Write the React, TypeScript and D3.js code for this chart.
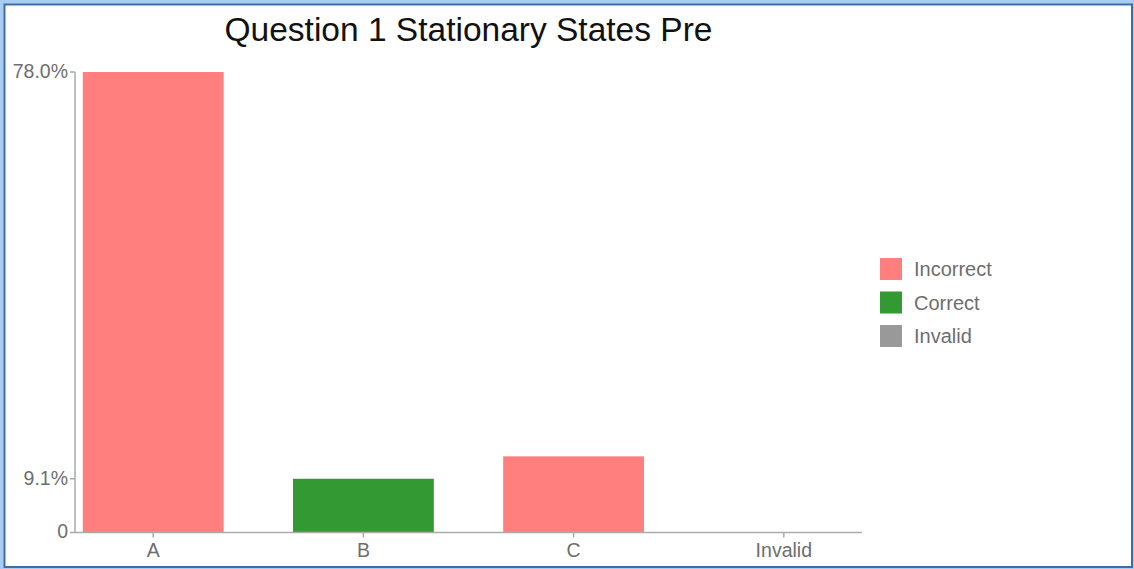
import React from "react";
import * as d3 from "d3";

const categories = ["A", "B", "C", "Invalid"];
const percentages = [78.0, 9.1, 12.9, 0];
const kinds = ["Incorrect", "Correct", "Incorrect", "Invalid"];
const legendLabels = ["Incorrect", "Correct", "Invalid"];
const yTickValues = [0, 9.1, 78.0];

const W = 1134;
const H = 569;
const colors: Record<string, string> = {
  Incorrect: "#ff7f7f",
  Correct: "#339933",
  Invalid: "#999999",
};

export default function App() {
  const left = 75;
  const right = 862;
  const top = 72;
  const bottom = 532.5;

  const x = d3
    .scaleBand<string>()
    .domain(categories)
    .range([left, right])
    .paddingInner(0.33)
    .paddingOuter(0.037);
  const y = d3.scaleLinear().domain([0, 78]).range([bottom, top]);

  const font = "'Liberation Sans', Arial, Helvetica, sans-serif";
  const axisColor = "#aaaaaa";
  const textColor = "#6e6e6e";

  const fmt = (v: number) => (v === 0 ? "0" : `${v.toFixed(1)}%`);

  return (
    <svg
      width={W}
      height={H}
      style={{ position: "absolute", left: 0, top: 0, display: "block" }}
      fontFamily={font}
    >
      {/* frame */}
      <rect x={0} y={0} width={W} height={H} fill="#a8ccf2" />
      <rect x={4.5} y={4.5} width={W - 6.5} height={H - 6.5} fill="#ffffff" stroke="#3e6ea3" strokeWidth={2} />

      {/* title */}
      <text
        x={(left + right) / 2}
        y={40.5}
        textAnchor="middle"
        fontSize={33.5}
        fill="#111111"
      >
        Question 1 Stationary States Pre
      </text>

      {/* bars */}
      {categories.map((c, i) => (
        <rect
          key={c}
          x={x(c)}
          y={y(percentages[i])}
          width={x.bandwidth()}
          height={bottom - y(percentages[i])}
          fill={colors[kinds[i]]}
        />
      ))}

      {/* y axis */}
      <line x1={left} x2={left} y1={top} y2={bottom} stroke={axisColor} strokeWidth={1.5} />
      {yTickValues.map((v) => (
        <g key={v} transform={`translate(0,${y(v)})`}>
          <line x1={left - 5} x2={left} stroke={axisColor} strokeWidth={1.5} />
          <text
            x={left - 7}
            dy="0.3em"
            textAnchor="end"
            fontSize={19.5}
            fill={textColor}
          >
            {fmt(v)}
          </text>
        </g>
      ))}

      {/* x axis */}
      <line x1={left} x2={right} y1={bottom} y2={bottom} stroke={axisColor} strokeWidth={1.5} />
      {categories.map((c) => {
        const cx = (x(c) as number) + x.bandwidth() / 2;
        return (
          <g key={c} transform={`translate(${cx},${bottom})`}>
            <line y1={0} y2={5} stroke={axisColor} strokeWidth={1.5} />
            <text y={24.5} textAnchor="middle" fontSize={19.5} fill={textColor}>
              {c}
            </text>
          </g>
        );
      })}

      {/* legend */}
      {legendLabels.map((l, i) => (
        <g key={l} transform={`translate(880,${258 + i * 33.5})`}>
          <rect width={22} height={22} fill={colors[l]} />
          <text x={34} y={11} dy="0.35em" fontSize={20} fill={textColor}>
            {l}
          </text>
        </g>
      ))}
    </svg>
  );
}
